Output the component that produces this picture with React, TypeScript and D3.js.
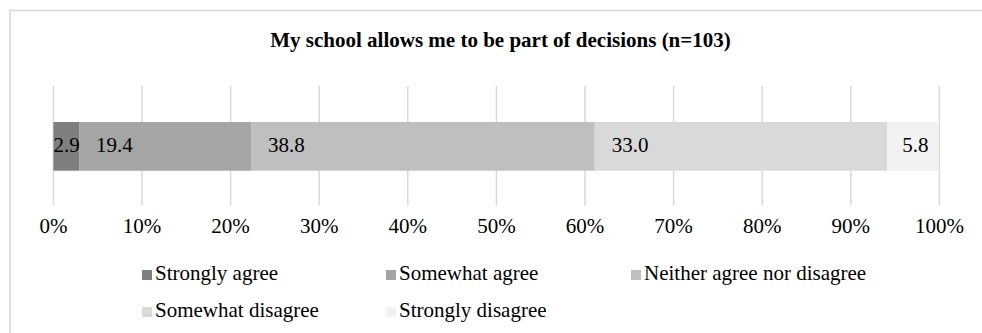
import React from "react";
import * as d3 from "d3";

const title = "My school allows me to be part of decisions (n=103)";
const categories = ["My school allows me to be part of decisions"];
const seriesNames = [
  "Strongly agree",
  "Somewhat agree",
  "Neither agree nor disagree",
  "Somewhat disagree",
  "Strongly disagree",
];
const seriesValues = [2.9, 19.4, 38.8, 33.0, 5.8];
const seriesColors = ["#7f7f7f", "#a5a5a5", "#bfbfbf", "#d9d9d9", "#f2f2f2"];
const tickValues = [0, 10, 20, 30, 40, 50, 60, 70, 80, 90, 100];

const W = 982;
const H = 333;
const FONT = "'Liberation Serif', 'Times New Roman', serif";
const FS = 21;

export default function App() {
  const x = d3.scaleLinear().domain([0, 100]).range([53.4, 939.4]);
  const y = d3.scaleBand().domain(categories).range([86, 206]).paddingInner(0).paddingOuter(0.3);

  const stack = d3
    .stack<any>()
    .keys(seriesNames)(
      categories.map((c) => {
        const o: any = { cat: c };
        seriesNames.forEach((k, i) => (o[k] = seriesValues[i]));
        return o;
      })
    );

  const barTop = 122;
  const barH = 48.7;

  const legendCols = [142, 386, 631];
  const legendRows = [280, 317];

  const measure = (s: string) => s.length * 0.5 * FS - (s.includes(".") ? 0.25 * FS : 0);

  return (
    <svg
      width={W}
      height={H}
      style={{ position: "absolute", left: 0, top: 0, background: "#fff" }}
      fontFamily={FONT}
    >
      <rect x={10} y={10.5} width={W + 20} height={H + 20} fill="#fff" stroke="#d9d9d9" strokeWidth={1.6} />
      <text x={500.5} y={46.5} textAnchor="middle" fontWeight="bold" fontSize={FS} fill="#000">
        {title}
      </text>
      {tickValues.map((t) => (
        <line key={t} x1={x(t)} x2={x(t)} y1={86} y2={205.5} stroke="#d9d9d9" strokeWidth={1.5} />
      ))}
      {stack.map((s, i) =>
        s.map((d, j) => (
          <rect
            key={i + "-" + j}
            x={x(d[0])}
            width={x(d[1]) - x(d[0])}
            y={barTop}
            height={barH}
            fill={seriesColors[i]}
          />
        ))
      )}
      {stack.map((s, i) =>
        s.map((d, j) => {
          const segW = x(d[1]) - x(d[0]);
          const label = seriesValues[i].toFixed(1);
          const lw = measure(label);
          const off = Math.max(0, Math.min(17, segW - lw - 10));
          return (
            <text key={"l" + i + j} x={x(d[0]) + off} y={151.5} fontSize={FS} fill="#000">
              {label}
            </text>
          );
        })
      )}
      {tickValues.map((t) => (
        <text key={"t" + t} x={x(t)} y={233} textAnchor="middle" fontSize={FS} fill="#000">
          {t + "%"}
        </text>
      ))}
      {seriesNames.map((n, i) => {
        const cx = legendCols[i % 3];
        const cy = legendRows[Math.floor(i / 3)];
        return (
          <g key={"lg" + i}>
            <rect x={cx} y={cy - 10} width={10} height={10} fill={seriesColors[i]} />
            <text x={cx + 13} y={cy} fontSize={FS} fill="#000">
              {n}
            </text>
          </g>
        );
      })}
    </svg>
  );
}
